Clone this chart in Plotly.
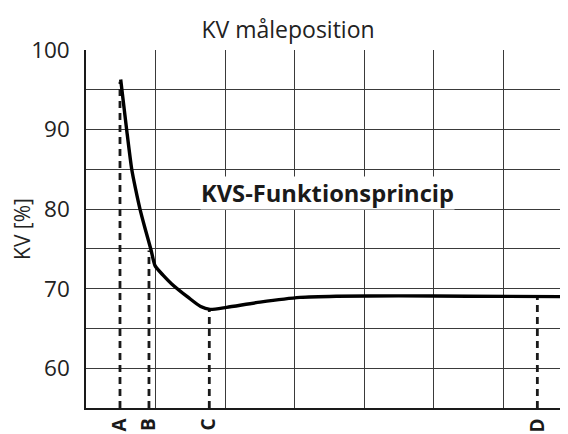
import plotly.graph_objects as go

# Curve of KV [%] versus measuring position (grid units)
curve_x = [0.499, 0.586, 0.658, 0.714, 0.777, 0.852, 0.935, 0.993, 1.108, 1.233, 1.472, 1.650, 1.784, 2.024, 2.504, 3.079, 3.6, 4.5, 5.5, 6.94]
curve_y = [96.3, 89.9, 85.0, 82.5, 80.0, 77.5, 74.9, 72.9, 71.7, 70.6, 68.9, 67.75, 67.4, 67.65, 68.3, 68.9, 69.05, 69.1, 69.05, 69.0]

# Marked positions A-D
marker_labels = ["A", "B", "C", "D"]
marker_x = [0.489, 0.906, 1.774, 6.494]
marker_top = [96.0, 74.8, 67.4, 69.0]

y_ticks = [60, 70, 80, 90, 100]
y_min, y_max = 55, 100
x_min, x_max = 0, 6.935

GRID = "#3a3a3a"
FONT = "Open Sans"

fig = go.Figure()

for lx, top in zip(marker_x, marker_top):
    fig.add_trace(go.Scatter(
        x=[lx, lx], y=[y_min, top], mode="lines",
        line=dict(color="#1a1a1a", width=2.8, dash="7px,5px"),
        hoverinfo="skip", showlegend=False))

fig.add_trace(go.Scatter(
    x=curve_x, y=curve_y, mode="lines",
    line=dict(color="black", width=3.4, shape="spline", smoothing=0.6),
    showlegend=False))

fig.add_annotation(
    x=3.48, y=82.0, xref="x", yref="y", text="<b>KVS-Funktionsprincip</b>",
    showarrow=False, font=dict(family=FONT, size=23.7, color="#1a1a1a"),
    bgcolor="white", borderpad=0)

# page body adds an 8px offset; size the figure to the visible window
W, H = 560, 426
fig.update_layout(
    width=W, height=H,
    margin=dict(l=78, r=0, t=42, b=26),
    paper_bgcolor="white", plot_bgcolor="white",
    font=dict(family=FONT, color="#222"),
    title=dict(text="KV måleposition", x=280 / W, xref="container", xanchor="center",
               y=1 - 22 / H, yref="container", yanchor="middle",
               font=dict(family=FONT, size=23, color="#222")),
    xaxis=dict(
        range=[x_min, x_max], showgrid=False, zeroline=False, automargin=False,
        tickvals=marker_x, ticktext=["<b>%s</b>" % s for s in marker_labels],
        tickangle=-90, ticks="", ticklabelstandoff=1,
        tickfont=dict(family=FONT, size=19, color="#1a1a1a"),
        showline=True, linecolor="#1a1a1a", linewidth=1.5,
        minor=dict(dtick=1, tick0=0, showgrid=True, gridcolor=GRID, gridwidth=1.2, ticks=""),
    ),
    yaxis=dict(
        range=[y_min, y_max], tickvals=y_ticks, showgrid=True, gridcolor=GRID, gridwidth=1.2,
        zeroline=False, ticks="", ticklabelstandoff=10, automargin=False,
        tickfont=dict(family=FONT, size=22.5, color="#222"),
        showline=True, linecolor="#1a1a1a", linewidth=1.5,
        title=dict(text="KV [%]", font=dict(family=FONT, size=21, color="#222"), standoff=4),
        minor=dict(dtick=5, tick0=55, showgrid=True, gridcolor=GRID, gridwidth=1.2, ticks=""),
    ),
)

fig.write_html("out.html")
